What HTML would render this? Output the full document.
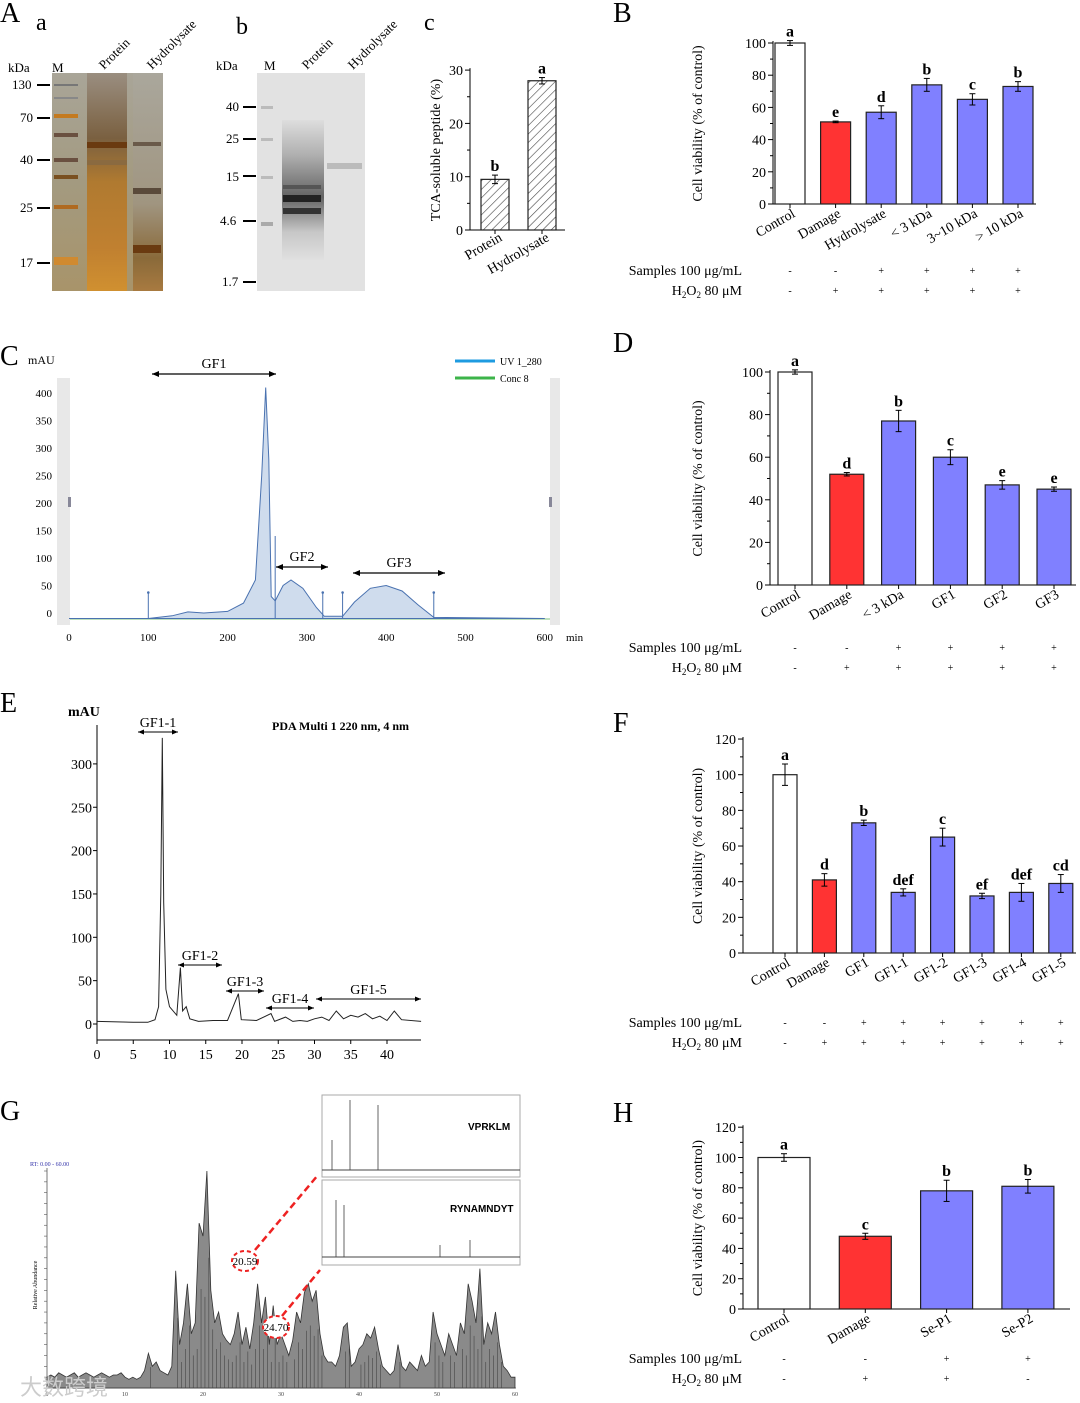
<!DOCTYPE html>
<html><head><meta charset="utf-8">
<style>
html,body{margin:0;padding:0;background:#fff;}
svg{display:block;font-family:"Liberation Serif",serif;}
</style></head>
<body>
<svg id="fig" width="1080" height="1403" viewBox="0 0 1080 1403" xmlns="http://www.w3.org/2000/svg">
<defs>
<pattern id="hatch" width="6" height="6" patternUnits="userSpaceOnUse" patternTransform="rotate(45)">
<rect width="6" height="6" fill="#fff"/><line x1="0" y1="0" x2="0" y2="6" stroke="#444" stroke-width="1.2"/></pattern>
<linearGradient id="gelA" x1="0" y1="0" x2="0" y2="1">
<stop offset="0" stop-color="#a9a598"/><stop offset="0.5" stop-color="#a39a80"/><stop offset="1" stop-color="#a8946a"/></linearGradient>
<linearGradient id="laneA" x1="0" y1="0" x2="0" y2="1">
<stop offset="0" stop-color="#9a8e80"/><stop offset="0.3" stop-color="#7a6040"/><stop offset="0.5" stop-color="#b07a30"/><stop offset="0.8" stop-color="#c08030"/><stop offset="1" stop-color="#d09030"/></linearGradient>
<linearGradient id="laneA2" x1="0" y1="0" x2="0" y2="1">
<stop offset="0" stop-color="#aaa79c"/><stop offset="0.6" stop-color="#a09580"/><stop offset="0.85" stop-color="#8a6a3a"/><stop offset="1" stop-color="#a87a40"/></linearGradient>
<linearGradient id="laneB" x1="0" y1="0" x2="0" y2="1">
<stop offset="0" stop-color="#ddd"/><stop offset="0.25" stop-color="#aaa"/><stop offset="0.55" stop-color="#555"/><stop offset="0.8" stop-color="#c4c4c4"/><stop offset="1" stop-color="#e0e0e0"/></linearGradient>
</defs>

<g>
<text x="0" y="22" font-size="28">A</text>
<text x="36" y="30" font-size="24">a</text>
<text x="236" y="34" font-size="24">b</text>
<text x="424" y="30" font-size="24">c</text>
<g>
<rect x="52" y="73" width="111" height="218" fill="url(#gelA)"/>
<rect x="87" y="73" width="40" height="218" fill="url(#laneA)"/>
<rect x="133" y="73" width="30" height="218" fill="url(#laneA2)"/>
<rect x="87" y="142" width="40" height="6" fill="#6a3a10"/>
<rect x="87" y="160" width="40" height="5" fill="#8a6a40"/>
<rect x="133" y="142" width="28" height="4" fill="#6a5a4a"/>
<rect x="133" y="188" width="28" height="6" fill="#5a4a3a"/>
<rect x="133" y="245" width="28" height="8" fill="#6a3a10"/>
<rect x="54" y="84" width="24" height="2" fill="#777"/><rect x="54" y="97" width="24" height="2" fill="#888"/>
<rect x="54" y="114" width="24" height="4" fill="#c47a20"/><rect x="54" y="133" width="24" height="4" fill="#6a5040"/>
<rect x="54" y="158" width="24" height="4" fill="#6a5040"/><rect x="54" y="175" width="24" height="4" fill="#7a5020"/>
<rect x="54" y="205" width="24" height="4" fill="#b06a20"/><rect x="54" y="257" width="24" height="8" fill="#d08a30"/>
</g>
<g font-size="13">
<text x="8" y="72">kDa</text><text x="52" y="72">M</text>
<text x="12" y="89">130</text><text x="20" y="122">70</text><text x="20" y="164">40</text><text x="20" y="212">25</text><text x="20" y="267">17</text>
<g stroke="#000" stroke-width="2"><line x1="37" y1="85" x2="50" y2="85"/><line x1="37" y1="118" x2="50" y2="118"/><line x1="37" y1="160" x2="50" y2="160"/><line x1="37" y1="208" x2="50" y2="208"/><line x1="37" y1="263" x2="50" y2="263"/></g>
<text transform="translate(104,70) rotate(-45)">Protein</text>
<text transform="translate(152,70) rotate(-45)">Hydrolysate</text>
</g>
<g>
<rect x="257" y="73" width="108" height="218" fill="#e2e2e2"/>
<rect x="282" y="120" width="42" height="140" fill="url(#laneB)" opacity="0.9"/>
<rect x="283" y="195" width="38" height="7" fill="#222"/><rect x="283" y="208" width="38" height="6" fill="#333"/>
<rect x="283" y="185" width="38" height="4" fill="#555"/>
<rect x="327" y="163" width="35" height="6" fill="#bbb"/>
<rect x="261" y="106" width="12" height="3" fill="#bbb"/><rect x="261" y="138" width="12" height="3" fill="#bbb"/>
<rect x="261" y="176" width="12" height="3" fill="#bbb"/><rect x="261" y="222" width="12" height="4" fill="#aaa"/>
</g>
<g font-size="13">
<text x="216" y="70">kDa</text><text x="264" y="70">M</text>
<text x="226" y="111">40</text><text x="226" y="143">25</text><text x="226" y="181">15</text><text x="220" y="225">4.6</text><text x="222" y="286">1.7</text>
<g stroke="#000" stroke-width="2"><line x1="243" y1="107" x2="256" y2="107"/><line x1="243" y1="139" x2="256" y2="139"/><line x1="243" y1="176" x2="256" y2="176"/><line x1="243" y1="221" x2="256" y2="221"/><line x1="243" y1="282" x2="256" y2="282"/></g>
<text transform="translate(307,70) rotate(-45)">Protein</text>
<text transform="translate(353,70) rotate(-45)">Hydrolysate</text>
</g>
</g>
<g id="chartC"></g>

<text x="613" y="22" font-size="28">B</text>
<g id="chartB"></g>
<text x="613" y="352" font-size="28">D</text>
<g id="chartD"></g>
<text x="613" y="732" font-size="28">F</text>
<g id="chartF"></g>
<text x="613" y="1122" font-size="28">H</text>
<g id="chartH"></g>

<text x="0" y="365" font-size="28">C</text>
<g id="chromC"></g>
<text x="0" y="712" font-size="28">E</text>
<g id="chromE"></g>
<text x="0" y="1120" font-size="28">G</text>
<g id="chromG"></g>
</svg>

<script>
const tcaCats = ["Protein","Hydrolysate"];
const tcaVals = [9.5, 28];
const tcaErr = [0.8, 0.6];
const tcaLetters = ["b","a"];

const bCats = ["Control","Damage","Hydrolysate","< 3 kDa","3~10 kDa","> 10 kDa"];
const bVals = [100, 51, 57, 74, 65, 73];
const bErr = [1.5, 0.5, 4, 4, 3.5, 3];
const bLetters = ["a","e","d","b","c","b"];
const bSamples = ["-","-","+","+","+","+"];
const bH2O2 = ["-","+","+","+","+","+"];

const dCats = ["Control","Damage","< 3 kDa","GF1","GF2","GF3"];
const dVals = [100, 52, 77, 60, 47, 45];
const dErr = [1, 0.8, 5, 3.5, 2, 1];
const dLetters = ["a","d","b","c","e","e"];
const dSamples = ["-","-","+","+","+","+"];
const dH2O2 = ["-","+","+","+","+","+"];

const fCats = ["Control","Damage","GF1","GF1-1","GF1-2","GF1-3","GF1-4","GF1-5"];
const fVals = [100, 41, 73, 34, 65, 32, 34, 39];
const fErr = [6, 3.5, 1.5, 2, 5, 1.5, 5, 5];
const fLetters = ["a","d","b","def","c","ef","def","cd"];
const fSamples = ["-","-","+","+","+","+","+","+"];
const fH2O2 = ["-","+","+","+","+","+","+","+"];

const hCats = ["Control","Damage","Se-P1","Se-P2"];
const hVals = [100, 48, 78, 81];
const hErr = [2.5, 2, 7, 4.5];
const hLetters = ["a","c","b","b"];
const hSamples = ["-","-","+","+"];
const hH2O2 = ["-","+","+","-"];

const cTimes = [0,100,130,150,170,200,220,235,243,248,252,255,260,270,280,295,312,322,345,360,380,400,420,440,460,600];
const cVals  = [-10,-10,-5,2,0,3,18,60,250,410,280,30,22,50,60,45,10,-6,-6,20,45,50,40,15,-8,-10];

const eTimes = [0,5,7,8,8.5,8.8,9.0,9.2,9.5,10,11,11.5,11.8,12.3,12.8,14,16,18,19.5,19.9,22,24,24.5,26,27,28,29,30,31,32,33,34,35,36,37,38,39,40,41,42,44.7];
const eVals  = [3,2,2,5,20,150,330,140,40,20,10,65,15,20,6,3,4,4,35,5,4,12,3,8,3,4,3,6,8,4,15,6,10,8,12,6,9,4,15,5,3];

const gVals = [5,6,5,7,6,5,6,7,5,6,7,6,5,6,7,6,5,6,6,7,5,4,5,4,5,8,16,10,12,8,7,6,10,54,20,30,48,25,30,76,70,100,45,30,35,25,22,20,25,35,20,28,18,30,48,30,42,20,38,20,25,20,15,22,35,30,44,48,40,45,25,15,12,12,10,15,28,30,10,12,18,20,25,23,28,18,10,8,6,8,20,10,8,12,10,8,15,10,12,35,25,20,15,25,20,15,30,25,48,40,30,55,20,30,25,35,20,10,8,5,5];
const gStep = 0.5;

const NS="http://www.w3.org/2000/svg";
function mk(parent, tag, attrs, text){
  const el=document.createElementNS(NS,tag);
  for(const k in attrs) el.setAttribute(k,attrs[k]);
  if(text!==undefined) el.textContent=text;
  parent.appendChild(el); return el;
}

function barChart(gid, cfg, cats, vals, errs, letters, samples, h2o2){
  const g=document.getElementById(gid);
  const y=v=>cfg.y0 - v*cfg.scale;
  const cx=i=>cfg.c0 + i*cfg.step;
  const ax=mk(g,'line',{x1:cfg.ax,y1:cfg.y0,x2:cfg.ax,y2:y(cfg.max)-2,stroke:'#000','stroke-width':1});
  
  
  const bx=mk(g,'line',{x1:cfg.ax,y1:cfg.y0,x2:cfg.right,y2:cfg.y0,stroke:'#000','stroke-width':1});
  
  
  for(let v=0; v<=cfg.max; v+=cfg.tick){
    mk(g,'line',{x1:cfg.ax-5,y1:y(v),x2:cfg.ax,y2:y(v),stroke:'#000'});
    const t=mk(g,'text',{x:cfg.ax-7,y:y(v)+5,'font-size':14,'text-anchor':'end'},String(v));
    
    
    if(v+cfg.tick/2<=cfg.max) mk(g,'line',{x1:cfg.ax-3,y1:y(v+cfg.tick/2),x2:cfg.ax,y2:y(v+cfg.tick/2),stroke:'#000'});
  }
  const yt=mk(g,'text',{transform:`translate(${cfg.titleX},${y(cfg.max/2)}) rotate(-90)`,'font-size':cfg.tfs||14,'text-anchor':'middle'},cfg.title||'Cell viability (% of control)');
  
  
  cats.forEach((c,i)=>{
    const col = cfg.colors ? cfg.colors(i) : (i===0?'#fff':(i===1?'#ff3333':'#8080ff'));
    const r=mk(g,'rect',{x:cx(i)-cfg.w/2,y:y(vals[i]),width:cfg.w,height:vals[i]*cfg.scale,fill:col,stroke:'#222','stroke-width':1.2});
    
    
    const e1=y(vals[i]+errs[i]), e2=y(vals[i]-errs[i]);
    mk(g,'line',{x1:cx(i),y1:e1,x2:cx(i),y2:e2,stroke:'#000'});
    mk(g,'line',{x1:cx(i)-3,y1:e1,x2:cx(i)+3,y2:e1,stroke:'#000'});
    mk(g,'line',{x1:cx(i)-3,y1:e2,x2:cx(i)+3,y2:e2,stroke:'#000'});
    mk(g,'line',{x1:cx(i),y1:cfg.y0,x2:cx(i),y2:cfg.y0+4,stroke:'#000'});
    const lt=mk(g,'text',{x:cx(i),y:e1-4,'font-size':16,'font-weight':'bold','text-anchor':'middle'},letters[i]);
    
    
    const xl=mk(g,'text',{transform:`translate(${cx(i)+cfg.lx},${cfg.y0+cfg.ly}) rotate(-30)`,'font-size':14,'text-anchor':'end'},c);
    
    
    if(samples){
      mk(g,'text',{x:cx(i),y:cfg.r1+4,'font-size':10,'text-anchor':'middle'},samples[i]);
      mk(g,'text',{x:cx(i),y:cfg.r2+4,'font-size':10,'text-anchor':'middle'},h2o2[i]);
    }
  });
  if(samples){
    const s1=mk(g,'text',{x:cfg.rowX,y:cfg.r1+5,'font-size':14,'text-anchor':'end'},'Samples 100 μg/mL');
    
    
    const s2=mk(g,'text',{x:cfg.rowX,y:cfg.r2+5,'font-size':14,'text-anchor':'end'});
    
    
    s2.innerHTML='H<tspan font-size="9" dy="3">2</tspan><tspan dy="-3">O</tspan><tspan font-size="9" dy="3">2</tspan><tspan dy="-3"> 80 μM</tspan>';
  }
}

barChart('chartC',{ax:470,y0:230,scale:5.33,max:30,tick:10,right:565,c0:495,step:47,w:28,titleX:440,lx:8,ly:10,
  title:'TCA-soluble peptide (%)',colors:()=>'url(#hatch)'},tcaCats,tcaVals,tcaErr,tcaLetters,null,null);
barChart('chartB',{ax:773,y0:204,scale:1.61,max:100,tick:20,right:1036,c0:790,step:45.6,w:30,titleX:702,lx:6,ly:12,r1:270,r2:290,rowX:742},
  bCats,bVals,bErr,bLetters,bSamples,bH2O2);
barChart('chartD',{ax:770,y0:585,scale:2.13,max:100,tick:20,right:1076,c0:795,step:51.8,w:34,titleX:702,lx:6,ly:12,r1:647,r2:667,rowX:742},
  dCats,dVals,dErr,dLetters,dSamples,dH2O2);
barChart('chartF',{ax:743,y0:953,scale:1.783,max:120,tick:20,right:1076,c0:785,step:39.4,w:24,titleX:702,lx:6,ly:12,r1:1022,r2:1042,rowX:742},
  fCats,fVals,fErr,fLetters,fSamples,fH2O2);
barChart('chartH',{ax:743,y0:1309,scale:1.515,max:120,tick:20,right:1070,c0:784,step:81.3,w:52,titleX:702,lx:6,ly:12,r1:1358,r2:1378,rowX:742},
  hCats,hVals,hErr,hLetters,hSamples,hH2O2);

(function(){
  const g=document.getElementById('chromC');
  const X=t=>69+t*0.793, Y=v=>613-v*0.55;
  mk(g,'rect',{x:57,y:378,width:13,height:247,fill:'#e8e8e8'});
  mk(g,'rect',{x:550,y:378,width:10,height:247,fill:'#e8e8e8'});
  mk(g,'line',{x1:70,y1:619,x2:550,y2:619,stroke:'#7cc07c','stroke-width':1});
  let d='M'+X(cTimes[0])+','+Y(cVals[0]);
  cTimes.forEach((t,i)=>{d+=' L'+X(t).toFixed(1)+','+Y(cVals[i]).toFixed(1);});
  const area=mk(g,'path',{d:d+' L'+X(cTimes[cTimes.length-1])+','+Y(-10)+' Z',fill:'#cfdced',stroke:'#4a72b0','stroke-width':1});
  
  
  [100,320,345,460].forEach(t=>{mk(g,'line',{x1:X(t),y1:Y(-10),x2:X(t),y2:Y(-10)-26,stroke:'#4a72b0','stroke-width':1});mk(g,'circle',{cx:X(t),cy:Y(-10)-26,r:1.3,fill:'#4a72b0'});});
  mk(g,'line',{x1:X(260),y1:Y(-10),x2:X(260),y2:Y(140),stroke:'#4a72b0','stroke-width':1});
  const yt=[0,50,100,150,200,250,300,350,400];
  yt.forEach(v=>mk(g,'text',{x:52,y:Y(v)+4,'font-size':11,'text-anchor':'end'},String(v)));
  [0,100,200,300,400,500,600].forEach(v=>mk(g,'text',{x:X(v),y:641,'font-size':11,'text-anchor':'middle'},String(v)));
  mk(g,'text',{x:566,y:641,'font-size':11},'min');
  mk(g,'text',{x:28,y:364,'font-size':12},'mAU');
  mk(g,'rect',{x:68,y:497,width:3,height:10,fill:'#889'});
  mk(g,'rect',{x:549,y:497,width:3,height:10,fill:'#889'});
  const arr=(x1,x2,yy,lab)=>{
    mk(g,'line',{x1:x1,y1:yy,x2:x2,y2:yy,stroke:'#000','stroke-width':1.2});
    mk(g,'path',{d:`M${x1},${yy} l7,-3 v6 z M${x2},${yy} l-7,-3 v6 z`,fill:'#000'});
    mk(g,'text',{x:(x1+x2)/2,y:yy-6,'font-size':14,'text-anchor':'middle'},lab);
  };
  arr(152,276,374,'GF1'); arr(276,328,567,'GF2'); arr(353,445,573,'GF3');
  mk(g,'line',{x1:455,y1:361,x2:495,y2:361,stroke:'#1e9be0','stroke-width':3});
  mk(g,'line',{x1:455,y1:378,x2:495,y2:378,stroke:'#3cb44a','stroke-width':3});
  mk(g,'text',{x:500,y:365,'font-size':10},'UV 1_280');
  mk(g,'text',{x:500,y:382,'font-size':10},'Conc 8');
})();

(function(){
  const g=document.getElementById('chromE');
  const X=t=>97+t*7.25, Y=v=>1024-v*0.867;
  mk(g,'line',{x1:97,y1:725,x2:97,y2:1040,stroke:'#000'});
  mk(g,'line',{x1:97,y1:1040,x2:421,y2:1040,stroke:'#000'});
  [0,50,100,150,200,250,300].forEach(v=>{mk(g,'line',{x1:93,y1:Y(v),x2:97,y2:Y(v),stroke:'#000'});mk(g,'text',{x:92,y:Y(v)+5,'font-size':14,'text-anchor':'end'},String(v));});
  [0,5,10,15,20,25,30,35,40].forEach(v=>{mk(g,'line',{x1:X(v),y1:1040,x2:X(v),y2:1044,stroke:'#000'});mk(g,'text',{x:X(v),y:1059,'font-size':14,'text-anchor':'middle'},String(v));});
  let d='';
  eTimes.forEach((t,i)=>{d+=(i?' L':'M')+X(t).toFixed(1)+','+Y(eVals[i]).toFixed(1);});
  const p=mk(g,'path',{d:d,fill:'none',stroke:'#222','stroke-width':1});
  
  
  mk(g,'text',{x:68,y:716,'font-size':14,'font-weight':'bold'},'mAU');
  mk(g,'text',{x:272,y:730,'font-size':12,'font-weight':'bold'},'PDA Multi 1 220 nm, 4 nm');
  const arr=(x1,x2,yy,lab)=>{
    mk(g,'line',{x1:x1,y1:yy,x2:x2,y2:yy,stroke:'#000'});
    mk(g,'path',{d:`M${x1},${yy} l6,-2.5 v5 z M${x2},${yy} l-6,-2.5 v5 z`,fill:'#000'});
    mk(g,'text',{x:(x1+x2)/2,y:yy-5,'font-size':14,'text-anchor':'middle'},lab);
  };
  arr(138,178,732,'GF1-1'); arr(178,222,965,'GF1-2'); arr(226,264,991,'GF1-3'); arr(266,314,1008,'GF1-4'); arr(316,421,999,'GF1-5');
})();

(function(){
  const g=document.getElementById('chromG');
  const X=t=>47+t*7.8, Y=v=>1388-v*2.17;
  mk(g,'line',{x1:47,y1:1168,x2:47,y2:1388,stroke:'#555','stroke-width':0.8});
  mk(g,'line',{x1:47,y1:1388,x2:516,y2:1388,stroke:'#555','stroke-width':0.8});
  for(let v=0;v<=100;v+=5) mk(g,'line',{x1:44,y1:Y(v),x2:47,y2:Y(v),stroke:'#555','stroke-width':0.6});
  [0,10,20,30,40,50,60].forEach(v=>mk(g,'text',{x:X(v),y:1396,'font-size':6,'text-anchor':'middle',fill:'#444'},String(v)));
  let d='M'+X(0)+','+Y(0);
  gVals.forEach((v,i)=>{d+=' L'+X(i*gStep).toFixed(1)+','+Y(v).toFixed(1);});
  d+=' L'+X((gVals.length-1)*gStep)+','+Y(0)+' Z';
  const p=mk(g,'path',{d:d,fill:'#8a8a8a',stroke:'#333','stroke-width':0.8});
  
  
  gVals.forEach((v,i)=>{ if(v>15) mk(g,'line',{x1:X(i*gStep+0.25),y1:Y(0),x2:X(i*gStep+0.25),y2:Y(v*0.6),stroke:'#444','stroke-width':0.6}); });
  mk(g,'text',{x:30,y:1166,'font-size':6,fill:'#33a'},'RT: 0.00 - 60.00');
  mk(g,'text',{transform:'translate(37,1285) rotate(-90)','font-size':6,'text-anchor':'middle'},'Relative Abundance');
  mk(g,'rect',{x:322,y:1095,width:198,height:82,fill:'#fff',stroke:'#aaa'});
  mk(g,'rect',{x:322,y:1180,width:198,height:85,fill:'#fff',stroke:'#aaa'});
  mk(g,'text',{x:468,y:1130,'font-size':10,'font-weight':'bold','font-family':'Liberation Sans,sans-serif'},'VPRKLM');
  mk(g,'text',{x:450,y:1212,'font-size':10,'font-weight':'bold','font-family':'Liberation Sans,sans-serif'},'RYNAMNDYT');
  [[332,1170,1140],[350,1170,1100],[378,1170,1105],[336,1257,1200],[344,1257,1205],[440,1257,1245],[470,1257,1240]].forEach(a=>mk(g,'line',{x1:a[0],y1:a[1],x2:a[0],y2:a[2],stroke:'#666'}));
  mk(g,'line',{x1:322,y1:1170,x2:520,y2:1170,stroke:'#444'});
  mk(g,'line',{x1:322,y1:1257,x2:520,y2:1257,stroke:'#444'});
  mk(g,'ellipse',{cx:245,cy:1261,rx:13,ry:10,fill:'#fff',stroke:'#e22','stroke-width':2,'stroke-dasharray':'4,3'});
  mk(g,'ellipse',{cx:276,cy:1327,rx:13,ry:11,fill:'#fff',stroke:'#e22','stroke-width':2,'stroke-dasharray':'4,3'});
  mk(g,'text',{x:245,y:1265,'font-size':11,'text-anchor':'middle'},'20.59');
  mk(g,'text',{x:276,y:1331,'font-size':11,'text-anchor':'middle'},'24.70');
  mk(g,'line',{x1:255,y1:1250,x2:318,y2:1175,stroke:'#e22','stroke-width':2.5,'stroke-dasharray':'7,4'});
  mk(g,'line',{x1:282,y1:1316,x2:320,y2:1270,stroke:'#e22','stroke-width':2.5,'stroke-dasharray':'7,4'});
  mk(g,'text',{x:20,y:1395,'font-size':22,fill:'#ccc','font-family':'Noto Sans CJK SC,sans-serif'},'大数跨境');
})();
</script>
</body></html>
